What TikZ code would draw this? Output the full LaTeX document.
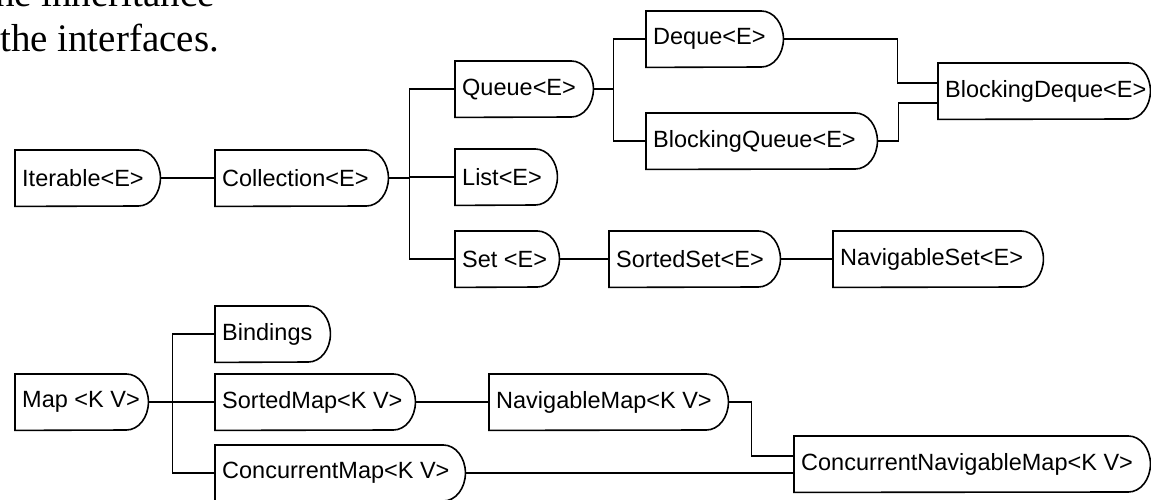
\documentclass[tikz,border=0pt]{standalone}
\usepackage{fontspec}
\setmainfont{Liberation Serif}
\newfontfamily\boxfont{Liberation Sans}
\newcommand\lbl[2]{\makebox[#1pt][l]{\hspace{7pt}#2}}
\tikzset{
  iface/.style={rectangle, anchor=north west, inner xsep=0pt, inner ysep=0pt,
    minimum height=56pt, font=\boxfont\fontsize{23.5}{26}\selectfont},
  outline/.style={draw=black, line width=1.6pt, line join=miter},
  conn/.style={draw=black, line width=1.6pt},
  titletext/.style={inner sep=0pt, font=\fontsize{39}{45}\selectfont}
}
\begin{document}
\begin{tikzpicture}[x=1pt,y=1pt]
\useasboundingbox (0,0) rectangle (1151,-500);
% title text (cut by the top of the picture)
\node[titletext, anchor=base east] (t1) at (215,-7) {the inheritance};
\node[titletext, anchor=base west] (t2) at (0,-52) {the interfaces.};
% nodes
\node[iface] (it) at (15,-150) {\lbl{145}{Iterable<E>}};
\node[iface] (co) at (215,-150) {\lbl{173}{Collection<E>}};
\node[iface] (qu) at (455,-61) {\lbl{138}{Queue<E>}};
\node[iface] (li) at (455,-149) {\lbl{102}{List<E>}};
\node[iface] (se) at (455,-231) {\lbl{104}{Set <E>}};
\node[iface] (ss) at (609,-231) {\lbl{171}{SortedSet<E>}};
\node[iface] (ns) at (833,-231) {\lbl{210}{NavigableSet<E>}};
\node[iface] (de) at (646,-11) {\lbl{137}{Deque<E>}};
\node[iface] (bq) at (646,-113) {\lbl{231}{BlockingQueue<E>}};
\node[iface] (bd) at (938,-63) {\lbl{212}{BlockingDeque<E>}};
\node[iface] (ma) at (15,-374) {\lbl{133}{Map <K V>}};
\node[iface] (bi) at (215,-306) {\lbl{115}{Bindings}};
\node[iface] (sm) at (215,-374) {\lbl{200}{SortedMap<K V>}};
\node[iface] (cm) at (215,-445) {\lbl{250}{ConcurrentMap<K V>}};
\node[iface] (nm) at (489,-374) {\lbl{239}{NavigableMap<K V>}};
\node[iface] (cn) at (794,-436) {\lbl{356}{ConcurrentNavigableMap<K V>}};
% outlines: straight left side, rounded right end
\foreach \n in {it,co,qu,li,se,ss,ns,de,bq,bd,ma,bi,sm,cm,nm,cn}{
  \draw[outline] (\n.north west) -- ([xshift=-22pt]\n.north east)
    arc[start angle=90, end angle=-90, x radius=22pt, y radius=28pt]
    -- (\n.south west) -- cycle;
}
% connectors
\draw[conn] (it.east) -- (co.west);
\coordinate (ctrunk) at ([xshift=21pt]co.east);
\draw[conn] (co.east) -- (ctrunk);
\draw[conn] (qu.west) -| (ctrunk);
\draw[conn] (li.west) -| (ctrunk);
\draw[conn] (se.west) -| (ctrunk);
\coordinate (qtrunk) at ([xshift=20pt]qu.east);
\draw[conn] (qu.east) -- (qtrunk);
\draw[conn] (de.west) -| (qtrunk);
\draw[conn] (bq.west) -| (qtrunk);
\draw[conn] (de.east) -- ++(114,0) |- ([yshift=8pt]bd.west);
\draw[conn] (bq.east) -- ++(21,0) |- ([yshift=-12pt]bd.west);
\draw[conn] (se.east) -- (ss.west);
\draw[conn] (ss.east) -- (ns.west);
\coordinate (mtrunk) at ([xshift=24pt]ma.east);
\draw[conn] (ma.east) -- (mtrunk);
\draw[conn] (bi.west) -| (mtrunk);
\draw[conn] (sm.west) -| (mtrunk);
\draw[conn] (cm.west) -| (mtrunk);
\draw[conn] (sm.east) -- (nm.west);
\draw[conn] (nm.east) -- ++(23,0) |- ([yshift=8pt]cn.west);
\draw[conn] (cm.east) -- (cm.east -| cn.west);
\end{tikzpicture}
\end{document}
